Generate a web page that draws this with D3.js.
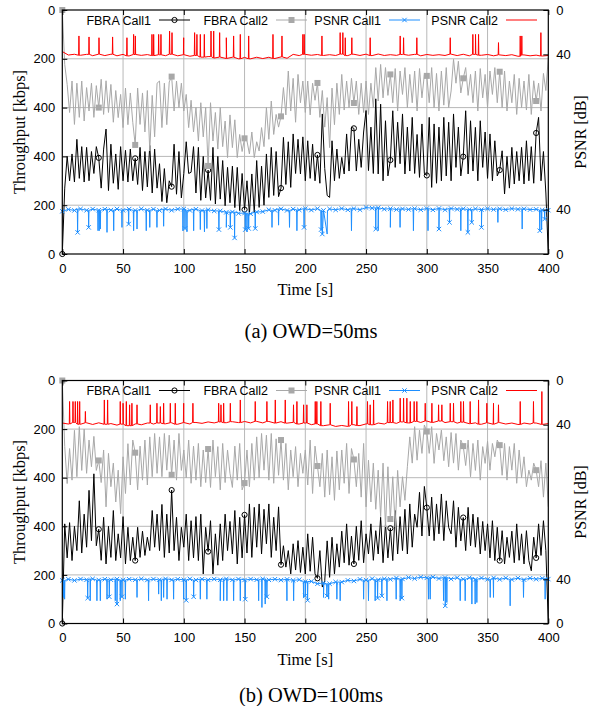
<!DOCTYPE html>
<html>
<head>
<meta charset="utf-8">
<script src="https://cdn.jsdelivr.net/npm/d3@7"></script>
<style>
  body { margin: 0; background: #fff; }
</style>
</head>
<body>
<svg id="fig" width="589" height="706"></svg>
<script>
// throughput samples, one every 2 s from t=0 to t=400
const step = 2;

// (a) OWD=50ms
const fbraA1 = [
  0, 270, 400, 300, 410, 295, 470, 310, 440, 295,
  437, 300, 420, 330, 440, 394, 270, 430, 512, 260,
  450, 290, 410, 265, 440, 300, 425, 295, 430, 300,
  392, 285, 437, 260, 420, 275, 445, 250, 430, 270,
  370, 215, 350, 210, 300, 276, 450, 245, 420, 230,
  330, 460, 330, 335, 440, 250, 437, 220, 400, 230,
  344, 220, 437, 205, 400, 225, 383, 198, 355, 210,
  360, 190, 355, 178, 330, 182, 300, 164, 328, 170,
  383, 191, 360, 200, 410, 232, 437, 240, 420, 235,
  270, 478, 285, 460, 273, 492, 330, 470, 328, 480,
  300, 464, 310, 450, 300, 406, 290, 574, 350, 240,
  232, 464, 300, 430, 310, 396, 328, 492, 340, 519,
  515, 340, 470, 355, 500, 588, 342, 520, 330, 636,
  328, 614, 300, 546, 320, 385, 587, 355, 540, 370,
  574, 328, 520, 340, 560, 330, 490, 314, 533, 330,
  322, 560, 273, 533, 290, 520, 300, 560, 320, 540,
  300, 574, 355, 520, 320, 399, 587, 328, 546, 340,
  519, 300, 546, 355, 500, 310, 492, 300, 464, 320,
  344, 423, 246, 400, 270, 437, 287, 420, 300, 437,
  287, 464, 300, 440, 290, 496, 560, 300, 420, 250,
  0
];
const fbraA2 = [
  0, 223, 305, 420, 291, 469, 300, 440, 291, 455,
  318, 414, 300, 440, 310, 400, 284, 428, 290, 420,
  305, 460, 330, 441, 346, 482, 320, 470, 340, 460,
  553, 320, 469, 340, 500, 330, 578, 350, 520, 300,
  291, 482, 300, 470, 295, 273, 414, 291, 400, 300,
  414, 346, 482, 370, 500, 400, 537, 380, 520, 400,
  639, 380, 537, 420, 570, 400, 560, 455, 605, 430,
  564, 450, 605, 510, 580, 526, 537, 590, 500, 605,
  540, 578, 482, 560, 400, 530, 373, 510, 428, 480,
  436, 318, 430, 250, 414, 280, 460, 264, 380, 291,
  420, 291, 430, 300, 370, 299, 440, 330, 480, 359,
  564, 320, 470, 300, 428, 264, 410, 291, 400, 280,
  381, 291, 428, 300, 420, 291, 428, 300, 400, 236,
  373, 223, 360, 236, 350, 264, 380, 240, 414, 250,
  346, 236, 400, 264, 380, 250, 414, 240, 360, 264,
  270, 380, 236, 400, 260, 414, 250, 390, 236, 400,
  332, 202, 300, 210, 340, 280, 236, 350, 264, 380,
  250, 414, 240, 360, 264, 400, 250, 346, 236, 380,
  253, 400, 250, 414, 291, 380, 264, 428, 280, 400,
  291, 410, 264, 428, 290, 373, 300, 414, 260, 330,
  195
];

// (b) OWD=100ms
const fbraB1 = [
  0, 410, 270, 415, 259, 400, 300, 505, 290, 450,
  314, 548, 341, 616, 320, 388, 260, 437, 245, 400,
  272, 465, 259, 369, 270, 440, 245, 396, 259, 355,
  259, 396, 272, 380, 280, 355, 300, 465, 314, 450,
  300, 490, 272, 450, 290, 549, 300, 437, 259, 396,
  314, 450, 259, 423, 270, 440, 259, 450, 204, 396,
  296, 423, 204, 369, 240, 410, 259, 450, 300, 420,
  286, 465, 245, 437, 270, 447, 290, 492, 272, 478,
  314, 492, 286, 470, 328, 492, 272, 437, 300, 480,
  242, 320, 232, 300, 204, 328, 220, 341, 210, 314,
  204, 369, 215, 355, 204, 186, 300, 150, 176, 340,
  190, 355, 204, 328, 232, 380, 250, 410, 240, 360,
  245, 400, 260, 423, 250, 369, 286, 410, 260, 382,
  286, 437, 250, 410, 270, 392, 259, 465, 286, 440,
  300, 470, 286, 492, 314, 450, 396, 540, 360, 564,
  477, 360, 520, 341, 492, 369, 533, 341, 505, 396,
  369, 505, 314, 478, 340, 436, 300, 478, 320, 450,
  314, 437, 286, 420, 300, 410, 270, 423, 259, 396,
  259, 382, 245, 355, 272, 380, 250, 410, 260, 369,
  245, 382, 259, 217, 355, 270, 410, 280, 423, 300,
  0
];
const fbraB2 = [
  0, 272, 424, 280, 410, 205, 396, 190, 370, 200,
  382, 245, 355, 230, 370, 329, 420, 286, 520, 300,
  437, 340, 500, 369, 548, 314, 465, 260, 430, 245,
  297, 450, 270, 410, 245, 430, 232, 396, 218, 382,
  232, 396, 218, 369, 225, 388, 245, 410, 218, 370,
  286, 400, 245, 423, 270, 410, 259, 437, 286, 420,
  282, 440, 245, 396, 272, 450, 259, 420, 286, 382,
  440, 270, 410, 259, 450, 422, 286, 437, 259, 410,
  232, 400, 218, 369, 225, 410, 218, 423, 240, 390,
  245, 410, 259, 450, 286, 396, 272, 437, 300, 382,
  286, 430, 245, 465, 270, 352, 437, 300, 480, 286,
  470, 314, 493, 290, 450, 286, 423, 259, 465, 280,
  325, 437, 300, 480, 259, 520, 328, 500, 340, 530,
  369, 560, 340, 603, 355, 570, 396, 603, 370, 520,
  396, 493, 355, 232, 340, 190, 328, 204, 300, 183,
  210, 300, 190, 341, 218, 286, 204, 330, 232, 355,
  214, 340, 218, 369, 245, 270, 350, 245, 396, 259,
  370, 245, 410, 272, 341, 250, 369, 259, 314, 245,
  266, 390, 259, 410, 272, 369, 259, 423, 286, 400,
  314, 437, 369, 410, 340, 369, 437, 330, 480, 340,
  520
];

// PSNR baseline, one value every 5 s, plus short drops [t, dB, marked, width]
const psnrStep = 5;
const psnrA1 = [
  38.5, 40.2, 39.3, 40.6, 39.4, 40.5, 39.5, 40.4, 39.6, 40.6,
  39.4, 40.5, 39.3, 40.7, 39.5, 40.4, 39.3, 40.6, 39.4, 40.5,
  40.6, 39.3, 40.4, 39.2, 39.9, 38.8, 38.9, 37.6, 37.9, 36.7,
  36.9, 36.3, 37.8, 38.2, 39.9, 39.4, 40.7, 39.3, 40.5, 39.8,
  40.9, 39.6, 40.9, 39.3, 40.6, 39.8, 41.0, 39.8, 40.9, 39.9,
  41.9, 41.3, 41.7, 40.4, 40.9, 40.1, 40.7, 40.2, 40.9, 39.9,
  41.0, 39.8, 41.1, 39.9, 41.0, 40.3, 40.8, 40.1, 40.7, 40.0,
  40.8, 40.1, 40.7, 40.0, 40.9, 40.3, 40.7, 40.0, 40.3, 39.7,
  39.5
];
const dropsA1 = [
  [12.6, 19.5, 1], [21.7, 24, 1], [29.4, 21, 0], [30.4, 21, 0], [31.3, 22.5, 0],
  [36.8, 19.5, 0], [42.3, 21, 0], [49.1, 24, 0], [54.6, 27, 1], [58.7, 21, 0],
  [61.5, 22.5, 0], [69.1, 21, 0], [72, 24, 0], [77.9, 24, 0], [83.4, 25, 0],
  [99.3, 21, 0], [101, 23, 1], [102.6, 20, 0], [108.1, 21, 0], [113.6, 22, 0],
  [117, 20, 0], [119, 23, 0], [128.9, 22, 1], [135, 24, 0], [138.3, 24, 1],
  [141.8, 14.5, 1], [150.6, 22, 1], [152, 20, 0], [153.4, 23, 1], [158.8, 23, 1],
  [172.6, 24, 0], [178, 26, 0], [187, 24, 0], [193.1, 21, 0], [199, 24, 1],
  [213, 22, 1], [216, 18, 1, 4], [238, 21, 0], [258, 22.5, 1], [260, 21, 0],
  [270, 24, 0], [278, 24, 0], [289, 21, 0], [301, 21, 0], [310, 22.5, 1],
  [318.7, 28.5, 1], [328, 21, 0], [333.8, 19.5, 1], [337, 28.5, 1], [345, 24, 1],
  [358.5, 28.5, 0], [378.5, 22.5, 0], [393, 21, 1], [394.5, 22, 0], [397, 31.5, 1]
];
const psnrA2 = [
  37.5, 40.6, 39.9, 40.8, 40.0, 41.2, 39.8, 41.1, 39.9, 41.3,
  40.0, 41.4, 40.1, 40.9, 40.2, 41.1, 40.4, 41.2, 39.9, 41.3,
  40.3, 41.7, 41.0, 42.5, 42.0, 43.3, 42.5, 43.7, 42.6, 44.0,
  42.7, 44.0, 42.6, 43.8, 42.6, 43.7, 42.3, 43.5, 40.0, 41.1,
  40.0, 40.8, 40.1, 41.0, 40.3, 41.0, 39.8, 41.1, 39.9, 41.0,
  39.8, 41.1, 39.7, 41.0, 40.3, 40.9, 40.1, 40.8, 40.0, 41.3,
  40.1, 40.9, 40.3, 41.0, 39.8, 41.1, 39.9, 41.3, 40.0, 40.8,
  40.1, 41.3, 40.5, 41.1, 40.3, 41.7, 40.5, 41.3, 40.7, 41.5,
  41
];
const dropsA2 = [
  [13.7, 23.4], [22, 24.3], [30.2, 25], [41.4, 24.3], [53.2, 25], [58.7, 22],
  [60.1, 23.4], [73.8, 22], [75.2, 22], [79.3, 22], [81.2, 22], [88.3, 19],
  [90.3, 20.4], [99.9, 25], [108.9, 20.4], [110.8, 22], [113.6, 22], [116.9, 22],
  [122.4, 19], [124.6, 19], [129.5, 20.4], [135, 25], [141, 23.4], [146.5, 22],
  [153.4, 23.4], [173.4, 22], [180.8, 23.4], [198, 22], [199.1, 22], [213.7, 23.4],
  [228.7, 20.4], [230.9, 20.4], [232.9, 25], [238.3, 25], [253.4, 25], [278.1, 23.4],
  [280.9, 25], [291.8, 25], [319.3, 25], [337.9, 22], [340.1, 22], [342.6, 22],
  [359, 29.4], [376.9, 23.4], [378.2, 23.4], [393.9, 20.4]
];

const psnrB1 = [
  39, 40.1, 39.0, 40.2, 39.6, 40.4, 39.4, 40.1, 39.6, 40.2,
  39.5, 40.1, 39.6, 40.4, 39.4, 40.2, 39.6, 40.4, 39.5, 40.1,
  39.6, 40.4, 39.4, 40.1, 39.5, 40.2, 39.6, 40.4, 39.5, 40.2,
  39.4, 40.2, 39.6, 40.4, 39.5, 40.1, 39.3, 40.0, 39.1, 39.7,
  38.0, 38.1, 36.0, 36.6, 36.0, 37.6, 37.5, 39.1, 38.5, 40.0,
  39.3, 40.6, 39.6, 40.4, 40.0, 41.2, 40.3, 41.6, 40.7, 42.0,
  41.3, 42.1, 40.7, 41.6, 40.3, 41.5, 40.1, 41.4, 40.0, 41.2,
  40.0, 41.3, 39.9, 41.2, 39.8, 41.1, 39.7, 41.0, 40.1, 40.9,
  40.2
];
const dropsB1 = [
  [1.1, 23.6, 0], [1.9, 22, 0], [20.9, 23, 1], [23, 20.6, 0], [28.5, 20.6, 0],
  [31.3, 20.6, 0], [36.8, 22, 0], [38.7, 24.2, 1], [43.6, 20.6, 0], [45, 17.6, 1],
  [47.7, 20.6, 0], [49.1, 24.2, 1], [51.9, 22, 0], [61.5, 23.6, 0], [71, 20.6, 0],
  [79.3, 26.6, 0], [81.5, 20.6, 0], [83.4, 23.6, 0], [86.2, 22, 0], [91.6, 22, 0],
  [99.9, 22, 0], [102, 21, 1], [108.1, 24.2, 1], [113.6, 22, 0], [119, 22, 0],
  [130, 20.6, 0], [132.8, 20.6, 0], [135.5, 20.6, 0], [141, 20.6, 0], [146.5, 20.6, 0],
  [150.6, 22, 1], [161.6, 20.6, 0], [164.3, 14.5, 0], [167, 17.6, 0], [168.4, 24.2, 1],
  [184.9, 20.6, 0], [190.4, 20.6, 0], [198.6, 23.6, 0], [200, 25, 1], [201.9, 21, 1],
  [215, 23.6, 0], [217.8, 25, 1], [219.2, 22, 0], [226, 22, 0], [228.7, 20.6, 0],
  [248, 22, 0], [252, 20.6, 0], [257.5, 20.6, 0], [259.5, 23, 1], [263, 25, 1],
  [267.2, 20.6, 0], [274.8, 22, 0], [278.1, 20.6, 0], [279.5, 23, 1], [301.4, 22, 0],
  [302.8, 22, 0], [313.8, 20.6, 0], [315.2, 16, 1], [316.5, 19, 0], [327.5, 20.6, 0],
  [331.6, 20.6, 0], [337.1, 17.6, 0], [339.8, 17.6, 0], [341.2, 19, 0], [352.2, 23.6, 0],
  [354.9, 23.6, 0], [368.6, 16, 0], [379.6, 23.6, 0], [397.4, 22, 0]
];
const psnrB2 = [
  38.5, 39.4, 38.0, 39.6, 38.3, 39.8, 38.3, 39.6, 39.0, 40.4,
  39.5, 40.9, 39.3, 40.1, 38.5, 39.4, 38.5, 39.2, 38.3, 39.6,
  38.1, 39.4, 38.0, 38.8, 37.5, 38.4, 37.5, 38.2, 37.3, 38.1,
  37.1, 38.4, 37.0, 38.4, 37.1, 38.6, 37.3, 38.6, 37.9, 39.4,
  38.5, 40.0, 39.3, 40.9, 40.1, 41.6, 40.7, 41.6, 40.0, 40.8,
  39.3, 40.1, 38.5, 39.4, 38.1, 38.8, 37.5, 38.4, 37.0, 38.0,
  36.7, 38.0, 36.7, 38.1, 37.3, 38.6, 37.7, 39.1, 38.3, 39.6,
  38.3, 39.6, 38.1, 39.4, 38.5, 39.8, 38.5, 39.4, 38.5, 39.8,
  39
];
const dropsB2 = [
  [6, 19], [8.8, 19], [10.7, 19], [12.6, 19], [14.3, 19], [19, 28], [34.6, 17.6],
  [37.3, 17.6], [47.7, 19], [50, 20.6], [52.7, 19], [55.4, 22], [57.3, 20.6],
  [61.5, 22], [72.4, 22], [77.9, 20.6], [80.7, 23.6], [83.4, 20.6], [88.9, 20.6],
  [93, 20.6], [99.9, 20.6], [107.5, 20.6], [128.7, 20.6], [130.6, 22], [132.8, 20.6],
  [138.3, 20.6], [146.5, 17.6], [158.8, 19], [168.4, 19], [175.3, 17.6], [183.5, 17.6],
  [190.3, 22], [193.1, 19], [198.6, 22], [201.3, 22], [208.2, 19], [209.5, 19],
  [212.8, 19], [220.5, 20.6], [235.6, 19], [238.3, 19], [242.5, 23.6], [251.2, 19],
  [253.4, 22], [256.2, 17.6], [267.7, 19], [269.9, 19], [272.1, 17.6], [278.1, 16],
  [280.9, 16], [283.6, 16], [286.4, 19], [289.6, 19], [291.8, 19], [298.7, 20.6],
  [304.2, 20.6], [309.7, 22], [312.4, 22], [319.3, 20.6], [322, 20.6], [328, 19],
  [330.2, 19], [335.7, 19], [342.6, 17.6], [349.4, 20.6], [354.9, 20.6], [359, 22],
  [376.9, 19], [387.8, 19], [394.7, 10]
];

// axes
const xTicks = [0, 50, 100, 150, 200, 250, 300, 350, 400];
// left axis is stacked: Call1 from the bottom, Call2 from the top
const leftTicks = [0, 200, 400, 600, 800, 1000];
const leftLabels = ["0", "200", "400", "400", "200", "0"];
const rightTicks = [0, 40, 180, 220];
const rightLabels = ["0", "40", "40", "0"];
const seriesNames = ["FBRA Call1", "FBRA Call2", "PSNR Call1", "PSNR Call2"];
const captions = ["(a) OWD=50ms", "(b) OWD=100ms"];

const colors = ["#000000", "#a8a8a8", "#1e8fff", "#ff0000"];
const sans = "'Liberation Sans', Arial, sans-serif";
const serif = "'Liberation Serif', 'Times New Roman', serif";

const panels = [
  { top: 10, bottom: 254, c1: fbraA1, c2: fbraA2, p1: psnrA1, d1: dropsA1, p2: psnrA2, d2: dropsA2, timeY: 295, capY: 338 },
  { top: 380.5, bottom: 623.5, c1: fbraB1, c2: fbraB2, p1: psnrB1, d1: dropsB1, p2: psnrB2, d2: dropsB2, timeY: 665, capY: 702 }
];

const svg = d3.select("#fig");
svg.append("rect").attr("width", 589).attr("height", 706).attr("fill", "#fff");

const x = d3.scaleLinear().domain([0, 400]).range([62.3, 548.3]);

// baseline points with the drops placed in between
function psnrPoints (base, drops) {
	const pts = base.map((v, i) => ({ t: i * psnrStep, v: v, m: true }));
	drops.forEach(([t, d, m, w]) => {
		const half = (w || 0) / 2;
		const b = base[Math.round(t / psnrStep)];
		pts.push({ t: t - half - 0.25, v: b }, { t: t - half, v: d, m: !!m },
		         { t: t + half, v: d }, { t: t + half + 0.25, v: b });
	});
	return pts.sort((a, b) => a.t - b.t);
}

panels.forEach((p, k) => {
	const yL = d3.scaleLinear().domain([0, 1000]).range([p.bottom, p.top]);
	const yR = d3.scaleLinear().domain([0, 220]).range([p.bottom, p.top]);
	const g = svg.append("g");

	// grid
	g.selectAll(".gx")
	  .data(xTicks.slice(1, -1))
	  .enter()
	  .append("line")
	  .attr("x1", d => x(d)).attr("x2", d => x(d))
	  .attr("y1", p.top).attr("y2", p.bottom)
	  .attr("stroke", "#b8b8b8").attr("stroke-width", 1);
	g.selectAll(".gy")
	  .data(leftTicks.slice(1, -1))
	  .enter()
	  .append("line")
	  .attr("x1", x(0)).attr("x2", x(400))
	  .attr("y1", d => yL(d)).attr("y2", d => yL(d))
	  .attr("stroke", "#b8b8b8").attr("stroke-width", 1);

	g.append("clipPath").attr("id", "clip" + k)
	  .append("rect")
	  .attr("x", x(0)).attr("y", p.top)
	  .attr("width", x(400) - x(0)).attr("height", p.bottom - p.top);
	const plot = g.append("g").attr("clip-path", `url(#clip${k})`);

	const lineLow = d3.line().x((d, i) => x(i * step)).y(d => yL(d));
	const lineHigh = d3.line().x((d, i) => x(i * step)).y(d => yL(1000 - d));
	const psnrLow = d3.line().x(d => x(d.t)).y(d => yR(d.v));
	const psnrHigh = d3.line().x(d => x(d.t)).y(d => yR(220 - d.v));

	const pts1 = psnrPoints(p.p1, p.d1);
	const pts2 = psnrPoints(p.p2, p.d2);

	plot.append("path").attr("d", lineLow(p.c1))
	  .attr("fill", "none").attr("stroke", colors[0]).attr("stroke-width", 1);
	plot.append("path").attr("d", lineHigh(p.c2))
	  .attr("fill", "none").attr("stroke", colors[1]).attr("stroke-width", 1);
	plot.append("path").attr("d", psnrLow(pts1))
	  .attr("fill", "none").attr("stroke", colors[2]).attr("stroke-width", 1);
	plot.append("path").attr("d", psnrHigh(pts2))
	  .attr("fill", "none").attr("stroke", colors[3]).attr("stroke-width", 1);

	// point markers: every 30 s on throughput, sampled points on PSNR Call1
	const every = 30 / step;
	g.selectAll(".m1")
	  .data(p.c1.filter((d, i) => i % every === 0))
	  .enter()
	  .append("circle")
	  .attr("cx", (d, i) => x(i * 30)).attr("cy", d => yL(d))
	  .attr("r", 2.6)
	  .attr("fill", "none").attr("stroke", colors[0]).attr("stroke-width", 1);
	g.selectAll(".m2")
	  .data(p.c2.filter((d, i) => i % every === 0))
	  .enter()
	  .append("rect")
	  .attr("x", (d, i) => x(i * 30) - 3).attr("y", d => yL(1000 - d) - 3)
	  .attr("width", 6).attr("height", 6)
	  .attr("fill", colors[1]);
	g.selectAll(".m3")
	  .data(pts1.filter(d => d.m))
	  .enter()
	  .append("path")
	  .attr("d", d => {
		  const cx = x(d.t), cy = yR(d.v), s = 2.2;
		  return `M${cx - s},${cy - s}L${cx + s},${cy + s}M${cx - s},${cy + s}L${cx + s},${cy - s}`;
	  })
	  .attr("stroke", colors[2]).attr("stroke-width", 1);

	// axes, ticks pointing inward
	const fontAxis = a => a.attr("font-family", sans).attr("font-size", 13)
	                       .call(s => s.select(".domain").remove());
	g.append("g")
	  .attr("transform", `translate(${x(0)},0)`)
	  .call(d3.axisLeft(yL).tickValues(leftTicks).tickFormat((d, i) => leftLabels[i])
	          .tickSizeInner(-5).tickSizeOuter(0).tickPadding(7))
	  .call(fontAxis);
	g.append("g")
	  .attr("transform", `translate(${x(400)},0)`)
	  .call(d3.axisRight(yR).tickValues(rightTicks).tickFormat((d, i) => rightLabels[i])
	          .tickSizeInner(-5).tickSizeOuter(0).tickPadding(8))
	  .call(fontAxis);
	g.append("g")
	  .attr("transform", `translate(0,${p.bottom})`)
	  .call(d3.axisBottom(x).tickValues(xTicks).tickSizeInner(-5).tickSizeOuter(0).tickPadding(9.5))
	  .call(fontAxis);
	g.append("g")
	  .attr("transform", `translate(0,${p.top})`)
	  .call(d3.axisTop(x).tickValues(xTicks).tickFormat("").tickSizeInner(-5).tickSizeOuter(0))
	  .call(fontAxis);

	g.append("rect")
	  .attr("x", x(0)).attr("y", p.top)
	  .attr("width", x(400) - x(0)).attr("height", p.bottom - p.top)
	  .attr("fill", "none").attr("stroke", "#000").attr("stroke-width", 1.2);

	// legend along the top
	const legEnd = [151, 268, 381, 498];
	const ly = p.top + 10;
	seriesNames.forEach((name, i) => {
		g.append("text")
		  .attr("x", legEnd[i]).attr("y", ly + 4.5)
		  .attr("text-anchor", "end")
		  .attr("font-family", sans).attr("font-size", 12.5)
		  .text(name);
		const x0 = legEnd[i] + 8, x1 = x0 + 31, xm = (x0 + x1) / 2;
		g.append("line")
		  .attr("x1", x0).attr("x2", x1).attr("y1", ly).attr("y2", ly)
		  .attr("stroke", colors[i]).attr("stroke-width", 1);
		if (i === 0)
			g.append("circle").attr("cx", xm).attr("cy", ly).attr("r", 2.6)
			  .attr("fill", "none").attr("stroke", colors[0]);
		if (i === 1)
			g.append("rect").attr("x", xm - 3).attr("y", ly - 3).attr("width", 6).attr("height", 6)
			  .attr("fill", colors[1]);
		if (i === 2)
			g.append("path")
			  .attr("d", `M${xm - 2.2},${ly - 2.2}L${xm + 2.2},${ly + 2.2}M${xm - 2.2},${ly + 2.2}L${xm + 2.2},${ly - 2.2}`)
			  .attr("stroke", colors[2]);
	});

	// titles
	const midY = (p.top + p.bottom) / 2;
	g.append("text")
	  .attr("transform", `translate(19.5,${midY}) rotate(-90)`)
	  .attr("dy", "0.35em").attr("text-anchor", "middle")
	  .attr("font-family", serif).attr("font-size", 16.5)
	  .text("Throughput [kbps]");
	g.append("text")
	  .attr("transform", `translate(580.5,${midY}) rotate(-90)`)
	  .attr("dy", "0.35em").attr("text-anchor", "middle")
	  .attr("font-family", serif).attr("font-size", 16)
	  .text("PSNR [dB]");
	g.append("text")
	  .attr("x", (x(0) + x(400)) / 2).attr("y", p.timeY)
	  .attr("text-anchor", "middle")
	  .attr("font-family", serif).attr("font-size", 16.5)
	  .text("Time [s]");
	g.append("text")
	  .attr("x", 311).attr("y", p.capY)
	  .attr("text-anchor", "middle")
	  .attr("font-family", serif).attr("font-size", 20.5)
	  .text(captions[k]);
});
</script>
</body>
</html>
